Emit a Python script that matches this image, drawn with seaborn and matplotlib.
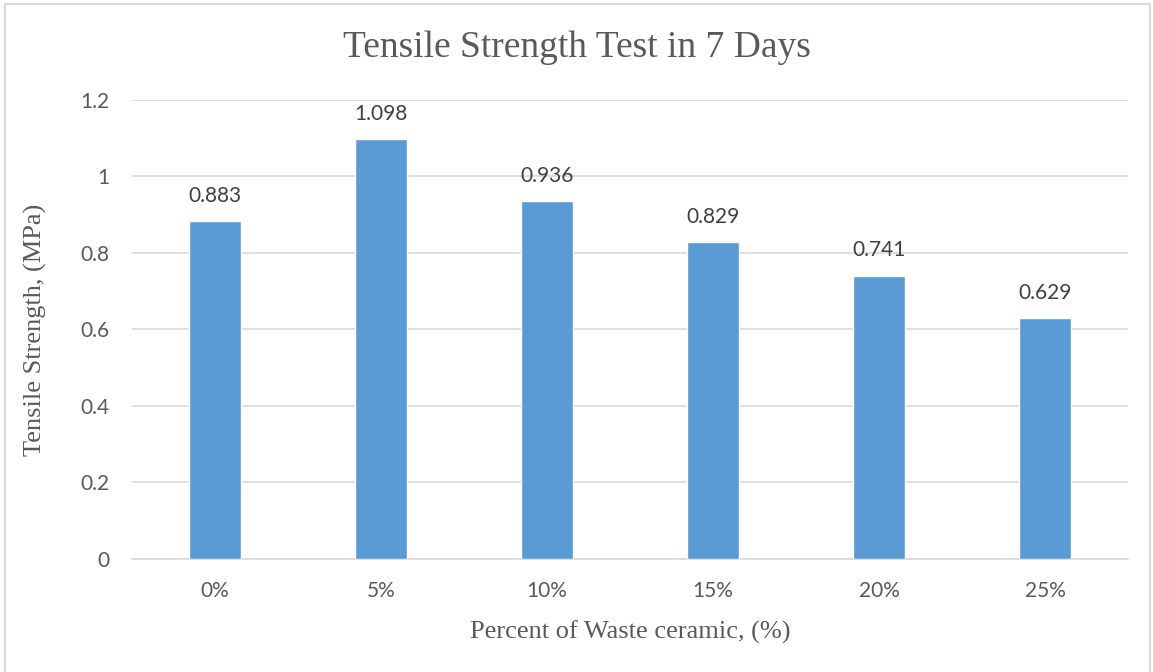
import matplotlib
matplotlib.use("Agg")
import matplotlib.pyplot as plt
import seaborn as sns
import pandas as pd

categories = ["0%", "5%", "10%", "15%", "20%", "25%"]
strength = [0.883, 1.098, 0.936, 0.829, 0.741, 0.629]
yticks = [0, 0.2, 0.4, 0.6, 0.8, 1, 1.2]
ytick_labels = ["0", "0.2", "0.4", "0.6", "0.8", "1", "1.2"]

sns.set_theme(style="white")
plt.rcParams["font.family"] = ["Lato", "DejaVu Sans"]

df = pd.DataFrame({"pct": categories, "val": strength})

fig = plt.figure(figsize=(11.53, 6.72), dpi=100)
ax = fig.add_axes([0.1145, 0.1682, 0.8638, 0.6830])

sns.barplot(data=df, x="pct", y="val", color="#5B9BD5", width=0.31,
            saturation=1, ax=ax, zorder=3)

ax.set_ylim(0, 1.2)
ax.set_xlim(-0.5, len(categories) - 0.5)
ax.set_yticks(yticks)
ax.set_yticklabels(ytick_labels)
ax.yaxis.grid(True, color="#D9D9D9", linewidth=1.2, zorder=0)
ax.xaxis.grid(False)
for s in ["top", "right", "left"]:
    ax.spines[s].set_visible(False)
ax.spines["bottom"].set_color("#D9D9D9")
ax.spines["bottom"].set_linewidth(1.2)
ax.tick_params(axis="both", length=0, labelsize=15, labelcolor="#595959")
ax.tick_params(axis="x", pad=16)
ax.tick_params(axis="y", pad=16)

for i, v in enumerate(strength):
    ax.annotate(f"{v:.3f}", (i, v), xytext=(0, 11), textcoords="offset points",
                ha="center", va="bottom", fontsize=15, color="#404040")

serif = ["Liberation Serif", "DejaVu Serif"]
ax.set_xlabel("Percent of Waste ceramic, (%)", family=serif, fontsize=19,
              color="#595959", labelpad=14)
ax.set_ylabel("Tensile Strength, (MPa)", family=serif, fontsize=19,
              color="#595959", labelpad=24)
fig.text(0.5, 1 - 48 / 672, "Tensile Strength Test in 7 Days",
         family=serif, fontsize=27, color="#595959", ha="center", va="center")

# light frame around the chart area
fig.patches.append(plt.Rectangle((5 / 1153, -0.01), 1145 / 1153, 1 - 4 / 672 + 0.01,
                                 transform=fig.transFigure, fill=False,
                                 edgecolor="#D9D9D9", linewidth=1.5))

fig.savefig("out.png", dpi=100, facecolor="white")
